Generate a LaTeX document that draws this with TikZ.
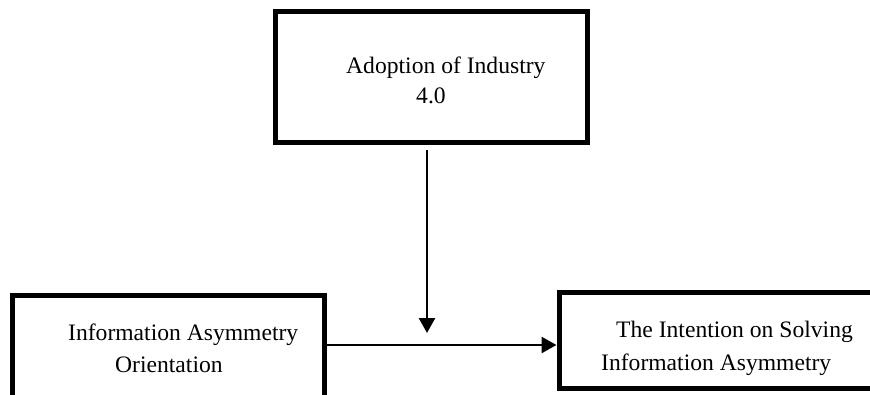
\documentclass[tikz,border=0pt]{standalone}
\usepackage{fontspec}
\setmainfont{Liberation Serif}
\usetikzlibrary{arrows.meta}
\begin{document}
\begin{tikzpicture}[x=1pt,y=-1pt,
  boxnode/.style={draw=black, line width=5pt, rectangle, inner sep=0pt, fill=white},
  lbl/.style={anchor=base west, inner sep=0pt, font=\fontsize{23.6}{28}\selectfont},
  conn/.style={line width=2.6pt, -{Triangle[length=15pt,width=16pt]}}]
\useasboundingbox (0,0) rectangle (870,394);
\clip (0,0) rectangle (870,394);
\node[boxnode, minimum width=312pt, minimum height=131pt] (top) at (431.5,77) {};
\node[boxnode, minimum width=312pt, minimum height=106pt] (iao) at (168,348) {};
\node[boxnode, minimum width=321pt, minimum height=96pt] (tis) at (719.5,340.5) {};
\node[lbl] (t1) at (346,73) {Adoption of Industry};
\node[lbl] (t2) at (416,103) {4.0};
\node[lbl] (l1) at (68,340) {Information Asymmetry};
\node[lbl] (l2) at (115,372) {Orientation};
\node[lbl] (r1) at (616,337) {The Intention on Solving};
\node[lbl] (r2) at (601,370) {Information Asymmetry};
\coordinate (vs) at (427,150);
\coordinate (ve) at (427,333);
\coordinate (hy) at (427,345);
\draw[conn] (vs) -- (ve);
\draw[conn] (iao.east |- hy) -- (tis.west |- hy);
\end{tikzpicture}
\end{document}
